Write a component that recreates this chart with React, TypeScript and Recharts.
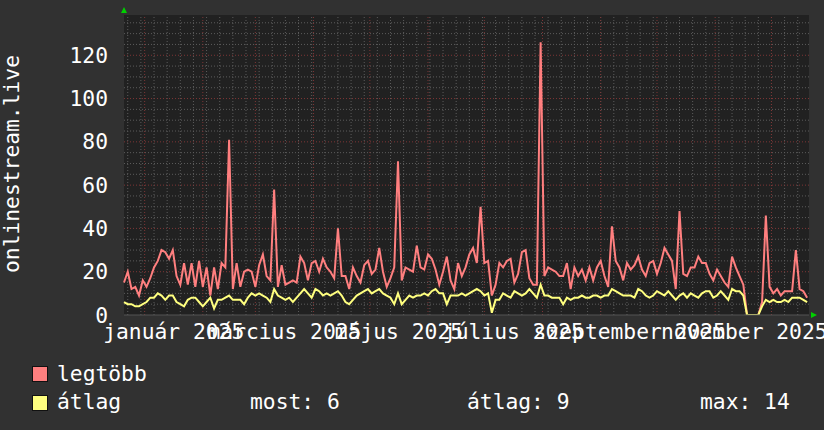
import React from 'react'
import { LineChart, Line, XAxis, YAxis, CartesianGrid, ReferenceLine } from 'recharts'

const DAY = 86400000
const START = Date.UTC(2024, 11, 21)
const STEP_DAYS = 2

// napi maximum (2 naponként leolvasva)
const legtobb = [
  15, 20, 12, 13, 9, 16, 13, 17, 22, 25, 30, 29, 26, 30, 18, 14, 24, 14, 24, 13,
  25, 13, 22, 9, 22, 12, 24, 22, 81, 12, 24, 13, 20, 21, 20, 13, 23, 28, 18, 16,
  58, 13, 23, 14, 15, 16, 15, 27, 24, 16, 24, 25, 20, 26, 22, 20, 17, 40, 18, 18,
  12, 22, 18, 15, 23, 25, 19, 21, 31, 20, 13, 17, 22, 71, 16, 22, 21, 20, 32, 22,
  21, 28, 26, 21, 14, 20, 27, 16, 12, 24, 18, 22, 28, 31, 24, 50, 24, 25, 9, 14,
  24, 22, 25, 26, 15, 19, 29, 30, 17, 14, 14, 126, 18, 22, 21, 20, 18, 18, 24, 12,
  22, 18, 21, 16, 22, 16, 22, 25, 18, 13, 41, 25, 22, 16, 24, 21, 23, 27, 21, 18,
  24, 25, 19, 24, 31, 28, 25, 12, 48, 19, 18, 22, 22, 27, 24, 24, 19, 16, 21, 18,
  15, 13, 27, 22, 18, 14, 0, 0, 0, 0, 6, 46, 13, 10, 12, 9, 11, 11, 11, 30,
  12, 11, 8,
]

// átlag
const atlag = [
  6, 5, 5, 4, 4, 5, 6, 8, 8, 10, 9, 7, 9, 9, 6, 5, 4, 7, 8, 8,
  6, 4, 6, 8, 3, 7, 7, 8, 9, 7, 7, 7, 5, 8, 10, 9, 10, 9, 8, 6,
  12, 9, 8, 7, 8, 6, 8, 10, 12, 10, 8, 12, 11, 9, 10, 9, 10, 11, 9, 6,
  5, 7, 9, 10, 11, 12, 10, 11, 12, 10, 9, 8, 5, 10, 5, 7, 9, 8, 9, 9,
  10, 9, 11, 12, 10, 10, 5, 9, 9, 9, 10, 9, 10, 11, 12, 11, 9, 10, 1, 7,
  7, 10, 9, 8, 11, 10, 9, 10, 12, 10, 8, 14, 9, 9, 8, 8, 8, 5, 8, 7,
  8, 8, 9, 8, 8, 9, 9, 8, 9, 9, 12, 11, 10, 9, 9, 9, 8, 12, 11, 9,
  8, 9, 11, 10, 9, 11, 9, 7, 9, 10, 8, 10, 9, 8, 10, 11, 11, 8, 9, 11,
  9, 7, 12, 11, 11, 9, 0, 0, 0, 0, 4, 7, 6, 7, 6, 6, 7, 6, 8, 8,
  8, 7, 6,
]

const yTicks = [0, 20, 40, 60, 80, 100, 120]
const xLabels = ['január 2025', 'március 2025', 'május 2025', 'július 2025', 'szeptember 2025', 'november 2025']
const xLabelDates = ['2025-01-16T12:00Z', '2025-03-16T12:00Z', '2025-05-16T12:00Z', '2025-07-16T12:00Z', '2025-09-16T12:00Z', '2025-11-16T12:00Z']
const monthStarts = ['2025-01-01', '2025-02-01', '2025-03-01', '2025-04-01', '2025-05-01', '2025-06-01',
  '2025-07-01', '2025-08-01', '2025-09-01', '2025-10-01', '2025-11-01', '2025-12-01']

const FONT = "'DejaVu Sans Mono', monospace"
const FS = 21.3
const RED = '#ff7f7f'
const YELLOW = '#ffff7f'
const GRID = '#5c5c5c'
const MGRID = '#7e3636'

const data = legtobb.map((v, i) => ({ t: START + i * STEP_DAYS * DAY, legtobb: v, atlag: atlag[i] }))
const xLabelTimes = xLabelDates.map((d) => Date.parse(d))
const monthTimes = monthStarts.map((d) => Date.parse(d + 'T00:00Z'))

// hétfők (heti rács)
const weekTimes: number[] = []
for (let t = Date.UTC(2024, 11, 23); t < START + 365 * DAY; t += 7 * DAY) weekTimes.push(t)
const minorY: number[] = []
for (let v = 5; v <= 135; v += 5) if (v % 20 !== 0) minorY.push(v)

const App: React.FC = () => {
  const legend = (color: string) => (
    <span style={{ display: 'inline-block', width: 14, height: 14, background: color, border: '1px solid #111' }} />
  )
  const txt: React.CSSProperties = { position: 'absolute', fontFamily: FONT, fontSize: FS, lineHeight: 1, color: '#fff', whiteSpace: 'pre' }

  return (
    <div style={{ position: 'absolute', left: 0, top: 0, width: 824, height: 430, background: '#313131', overflow: 'hidden' }}>
      <LineChart width={824} height={430} data={data} margin={{ top: 15, right: 15, bottom: 85, left: 64 }}>
        <CartesianGrid fill="#212121" stroke="none" />
        {weekTimes.map((t) => (
          <ReferenceLine key={'w' + t} x={t} stroke={GRID} strokeDasharray="1 2" />
        ))}
        {minorY.map((v) => (
          <ReferenceLine key={'h' + v} y={v} stroke={GRID} strokeDasharray="1 2" />
        ))}
        {monthTimes.map((t) => (
          <ReferenceLine key={'m' + t} x={t} stroke={MGRID} strokeDasharray="1 2" />
        ))}
        {yTicks.slice(1).map((v) => (
          <ReferenceLine key={'y' + v} y={v} stroke={MGRID} strokeDasharray="1 2" />
        ))}
        <XAxis
          dataKey="t"
          type="number"
          domain={[START, START + 365 * DAY]}
          ticks={xLabelTimes}
          interval={0}
          tickFormatter={(t: number) => xLabels[xLabelTimes.indexOf(t)] ?? ''}
          tick={{ fill: '#fff', fontSize: FS, fontFamily: FONT }}
          axisLine={{ stroke: '#555' }}
          tickLine={false}
          tickSize={6}
          tickMargin={3}
          height={30}
        />
        <YAxis
          type="number"
          domain={[0, 138.6]}
          ticks={yTicks}
          allowDataOverflow
          tick={{ fill: '#fff', fontSize: FS, fontFamily: FONT }}
          axisLine={false}
          tickLine={false}
          tickSize={6}
          tickMargin={10}
          width={60}
        />
        <Line dataKey="legtobb" type="linear" stroke={RED} strokeWidth={2} dot={false} isAnimationActive={false} />
        <Line dataKey="atlag" type="linear" stroke={YELLOW} strokeWidth={2} dot={false} isAnimationActive={false} />
      </LineChart>

      <div style={{ position: 'absolute', left: 12 - 150, top: 164 - 11, width: 300, height: 22, transform: 'rotate(-90deg)' }}>
        <div style={{ fontFamily: FONT, fontSize: FS, lineHeight: '22px', color: '#fff', textAlign: 'center' }}>onlinestream.live</div>
      </div>

      <svg width={824} height={430} style={{ position: 'absolute', left: 0, top: 0, pointerEvents: 'none' }}>
        <polygon points="121,13 124,7 127,13" fill="#00d000" />
        <polygon points="811,312 817,315 811,318" fill="#00d000" />
      </svg>

      <div style={{ position: 'absolute', left: 32, top: 366 }}>{legend(RED)}</div>
      <div style={{ position: 'absolute', left: 32, top: 395 }}>{legend(YELLOW)}</div>
      <div style={{ ...txt, left: 57, top: 363 }}>legtöbb</div>
      <div style={{ ...txt, left: 57, top: 391 }}>átlag</div>
      <div style={{ ...txt, left: 250, top: 391 }}>most: 6</div>
      <div style={{ ...txt, left: 467, top: 391 }}>átlag: 9</div>
      <div style={{ ...txt, left: 700, top: 391 }}>max: 14</div>
    </div>
  )
}

export default App
